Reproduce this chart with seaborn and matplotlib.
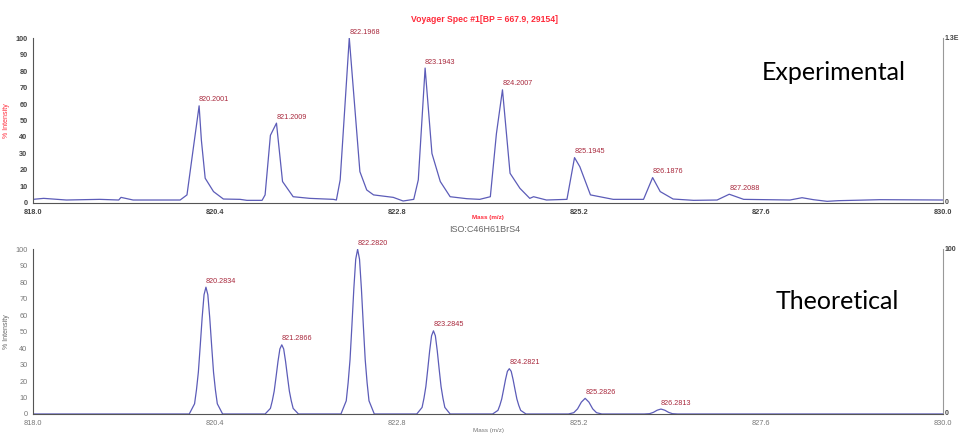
import matplotlib
matplotlib.use('Agg')
import matplotlib.pyplot as plt
import seaborn as sns
import pandas as pd
from matplotlib.ticker import MultipleLocator

# ==========================================
# DATA
# ==========================================
# Experimental profile (m/z, % intensity)
exp_mz = [818.00, 818.14, 818.44, 818.88, 819.13, 819.16, 819.32, 819.94, 820.03, 820.11,
          820.19, 820.22, 820.27, 820.38, 820.51, 820.73, 820.82, 821.02, 821.06, 821.13,
          821.21, 821.29, 821.43, 821.65, 821.96, 822.00, 822.05, 822.17, 822.31, 822.40,
          822.49, 822.75, 822.88, 823.02, 823.08, 823.17, 823.26, 823.37, 823.50, 823.72,
          823.89, 824.03, 824.11, 824.19, 824.29, 824.42, 824.55, 824.60, 824.77, 825.04,
          825.14, 825.21, 825.35, 825.65, 826.05, 826.17, 826.27, 826.44, 826.71, 827.02,
          827.18, 827.37, 827.98, 828.14, 828.29, 828.47, 828.62, 829.17, 830.00]
exp_int = [2.2, 2.8, 1.8, 2.2, 1.8, 3.4, 1.8, 1.8, 4.9, 32.0,
           58.9, 38.0, 15.0, 6.9, 2.4, 2.2, 1.6, 1.6, 4.9, 41.0,
           48.4, 13.0, 3.8, 2.8, 2.2, 1.8, 14.0, 100.0, 19.0, 7.9,
           4.9, 3.4, 1.2, 2.2, 14.0, 81.8, 30.0, 13.0, 3.8, 2.6,
           2.2, 3.8, 42.0, 68.6, 18.0, 8.9, 2.8, 3.8, 1.8, 2.2,
           27.5, 22.0, 4.9, 2.2, 2.2, 15.4, 6.9, 2.4, 1.6, 1.8,
           5.3, 2.2, 1.8, 3.2, 2.0, 1.0, 1.4, 2.0, 1.8]
exp_labels = ['820.2001', '821.2009', '822.1968', '823.1943', '824.2007',
              '825.1945', '826.1876', '827.2088']
exp_label_mz = [820.19, 821.21, 822.17, 823.17, 824.19, 825.14, 826.17, 827.18]
exp_label_int = [58.9, 48.4, 100.0, 81.8, 68.6, 27.5, 15.4, 5.3]

# Theoretical isotope pattern (m/z, % intensity)
theo_mz = [818.00,
           820.06, 820.13, 820.155, 820.18, 820.205, 820.23, 820.255, 820.28,
           820.305, 820.33, 820.355, 820.38, 820.405, 820.43, 820.50,
           821.06, 821.13, 821.155, 821.18, 821.205, 821.23, 821.255, 821.28,
           821.305, 821.33, 821.355, 821.38, 821.405, 821.43, 821.50,
           822.06, 822.13, 822.155, 822.18, 822.205, 822.23, 822.255, 822.28,
           822.305, 822.33, 822.355, 822.38, 822.405, 822.43, 822.50,
           823.06, 823.13, 823.155, 823.18, 823.205, 823.23, 823.255, 823.28,
           823.305, 823.33, 823.355, 823.38, 823.405, 823.43, 823.50,
           824.06, 824.13, 824.155, 824.18, 824.205, 824.23, 824.255, 824.28,
           824.305, 824.33, 824.355, 824.38, 824.405, 824.43, 824.50,
           825.06, 825.13, 825.18, 825.23, 825.28, 825.33, 825.38, 825.43, 825.50,
           826.06, 826.13, 826.18, 826.23, 826.28, 826.33, 826.38, 826.43, 826.50,
           830.00]
theo_int = [0.0,
            0.0, 6.2, 14.6, 25.4, 41.6, 58.5, 72.4, 77.0,
            72.4, 58.5, 41.6, 25.4, 14.6, 6.2, 0.0,
            0.0, 3.4, 8.0, 13.9, 22.7, 31.9, 39.5, 42.0,
            39.5, 31.9, 22.7, 13.9, 8.0, 3.4, 0.0,
            0.0, 8.0, 19.0, 33.0, 54.0, 76.0, 94.0, 100.0,
            94.0, 76.0, 54.0, 33.0, 19.0, 8.0, 0.0,
            0.0, 4.0, 9.6, 16.7, 27.3, 38.4, 47.5, 50.5,
            47.5, 38.4, 27.3, 16.7, 9.6, 4.0, 0.0,
            0.0, 2.2, 5.2, 9.1, 14.9, 20.9, 25.9, 27.5,
            25.9, 20.9, 14.9, 9.1, 5.2, 2.2, 0.0,
            0.0, 0.8, 3.1, 7.2, 9.5, 7.2, 3.1, 0.8, 0.0,
            0.0, 0.2, 1.0, 2.3, 3.0, 2.3, 1.0, 0.2, 0.0,
            0.0]
theo_labels = ['820.2834', '821.2866', '822.2820', '823.2845', '824.2821',
               '825.2826', '826.2813']
theo_label_mz = [820.28, 821.28, 822.28, 823.28, 824.28, 825.28, 826.28]
theo_label_int = [77.0, 42.0, 100.0, 50.5, 27.5, 9.5, 3.0]

x_ticks = [818.0, 820.4, 822.8, 825.2, 827.6, 830.0]

LINE_BLUE = '#5c5cb8'
LABEL_RED = '#a8283c'
AXIS_RED = '#ff2a3a'


def style_axis(ax, ylabel_color, right_top):
    ax.set_xlim(818.0, 830.0)
    ax.set_ylim(0, 100)
    ax.set_xticks(x_ticks)
    ax.set_xticklabels([f'{t:.1f}' for t in x_ticks])
    ax.xaxis.set_minor_locator(MultipleLocator(1.2))
    ax.set_yticks(range(0, 101, 10))
    ax.yaxis.set_minor_locator(MultipleLocator(5))
    ax.tick_params(axis='both', which='major', labelsize=5.3, length=3, width=0.6,
                   colors='#444444', pad=1)
    ax.tick_params(axis='both', which='minor', length=1.5, width=0.5, colors='#666666')
    for lab in ax.get_xticklabels() + ax.get_yticklabels():
        lab.set_fontweight('bold')
    ax.spines['top'].set_visible(False)
    for s in ('left', 'bottom', 'right'):
        ax.spines[s].set_visible(True)
        ax.spines[s].set_linewidth(0.8)
    ax.spines['left'].set_color('#555555')
    ax.spines['bottom'].set_color('#555555')
    ax.spines['right'].set_color('#999999')
    ax.set_xlabel('')
    ax.set_ylabel('% Intensity', fontsize=5, color=ylabel_color)
    ax.yaxis.set_label_coords(-0.025, 0.5)
    # right-hand absolute intensity axis
    ax.text(1.002, 1.0, right_top, transform=ax.transAxes, fontsize=5,
            color='#444444', ha='left', va='center', fontweight='bold')
    ax.text(1.002, 0.0, '0', transform=ax.transAxes, fontsize=5,
            color='#444444', ha='left', va='center', fontweight='bold')


sns.set_style('white')
plt.rcParams['font.family'] = ['Liberation Sans', 'DejaVu Sans']

fig = plt.figure(figsize=(9.6, 4.34), dpi=100)

# ---------------- Experimental ----------------
ax1 = fig.add_axes([0.0344, 0.5323, 0.948, 0.3801])
df_exp = pd.DataFrame({'mz': exp_mz, 'intensity': exp_int})
sns.lineplot(data=df_exp, x='mz', y='intensity', ax=ax1, color=LINE_BLUE,
             linewidth=0.9, sort=False)
for lab, mx, my in zip(exp_labels, exp_label_mz, exp_label_int):
    ax1.text(mx, my + 1.5, lab, fontsize=5.2, color=LABEL_RED, ha='left', va='bottom')
style_axis(ax1, AXIS_RED, '1.3E')
ax1.text(0.5, -0.085, 'Mass (m/z)', transform=ax1.transAxes, fontsize=4.5,
         color=AXIS_RED, ha='center', va='center', fontweight='bold')
fig.text(0.505, 0.956, 'Voyager Spec #1[BP = 667.9, 29154]', fontsize=6.2,
         color=AXIS_RED, ha='center', va='center', fontweight='bold')
fig.text(0.868, 0.834, 'Experimental', fontsize=18, color='black',
         ha='center', va='center', family=['Lato', 'DejaVu Sans'])

# ---------------- Theoretical ----------------
ax2 = fig.add_axes([0.0344, 0.0461, 0.948, 0.3795])
df_theo = pd.DataFrame({'mz': theo_mz, 'intensity': theo_int})
sns.lineplot(data=df_theo, x='mz', y='intensity', ax=ax2, color=LINE_BLUE,
             linewidth=0.9, sort=False)
for lab, mx, my in zip(theo_labels, theo_label_mz, theo_label_int):
    ax2.text(mx, my + 1.5, lab, fontsize=5.2, color=LABEL_RED, ha='left', va='bottom')
style_axis(ax2, '#666666', '100')
for lab in ax2.get_xticklabels() + ax2.get_yticklabels():
    lab.set_fontweight('normal')
    lab.set_color('#777777')
ax2.text(0.5, -0.098, 'Mass (m/z)', transform=ax2.transAxes, fontsize=4.5,
         color='#777777', ha='center', va='center')
fig.text(0.505, 0.472, 'ISO:C46H61BrS4', fontsize=6.5, color='#666666',
         ha='center', va='center')
fig.text(0.872, 0.305, 'Theoretical', fontsize=18, color='black',
         ha='center', va='center', family=['Lato', 'DejaVu Sans'])

fig.savefig('out.png', dpi=100)
